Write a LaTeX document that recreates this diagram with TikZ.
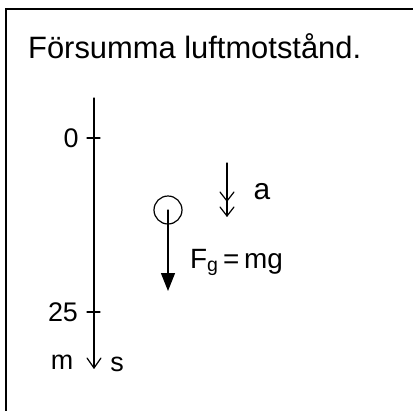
\documentclass[tikz,border=0pt]{standalone}
\usepackage{fontspec}
\setmainfont{Liberation Sans}
\usetikzlibrary{arrows.meta}
\begin{document}
\begin{tikzpicture}[x=1bp,y=-1bp,
  ink/.style={line width=1.2bp,black,line cap=round,line join=round},
  lbl/.style={inner sep=0pt,font=\fontsize{27}{29}\selectfont},
  tick/.style={ink}]
\useasboundingbox (0,0) rectangle (413,411);
% frame
\coordinate (fTL) at (6,9);
\coordinate (fBL) at (6,411);
\coordinate (fTR) at (413,9);
\draw[line width=1.6bp] (fBL) -- (fTL) -- (fTR);
% title
\node[anchor=west,inner sep=0pt,font=\fontsize{31}{33}\selectfont] (title) at (28,46) {Försumma luftmotstånd.};
% axis
\coordinate (axTop) at (94,98);
\coordinate (axBot) at (94,368);
\draw[ink] (axTop) -- (axBot);
\draw[ink] ([shift={(-7,-10)}]axBot) -- (axBot) -- ([shift={(7,-10)}]axBot);
\coordinate (t0a) at (87,138); \coordinate (t0b) at (100,138);
\coordinate (t25a) at (87,312); \coordinate (t25b) at (100,312);
\draw[tick] (t0a) -- (t0b);
\draw[tick] (t25a) -- (t25b);
\node[lbl] (l0) at (71,138) {0};
\node[lbl] (l25) at (63,312) {25};
\node[lbl] (lm) at (62,362) {m};
\node[lbl] (ls) at (117,364) {s};
% body
\node[circle,draw,ink,minimum size=28bp,inner sep=0pt] (ball) at (168,210) {};
\coordinate (fEnd) at (168,291);
\draw[ink,-{Triangle[length=18bp,width=14bp]}] (ball.center) -- (fEnd);
\node[anchor=base west,inner sep=0pt,font=\fontsize{28}{30}\selectfont] (Fg) at (190,268) {F\textsubscript{g}\,=\,mg};
% acceleration
\coordinate (aTop) at (227,163);
\coordinate (aMid) at (227,201);
\coordinate (aEnd) at (227,216);
\draw[ink] (aTop) -- (aEnd);
\draw[ink] ([shift={(-7,-9)}]aMid) -- (aMid) -- ([shift={(7,-9)}]aMid);
\draw[ink] ([shift={(-7,-9)}]aEnd) -- (aEnd) -- ([shift={(7,-9)}]aEnd);
\node[lbl,font=\fontsize{30}{32}\selectfont] (la) at (262,192) {a};
\end{tikzpicture}
\end{document}
